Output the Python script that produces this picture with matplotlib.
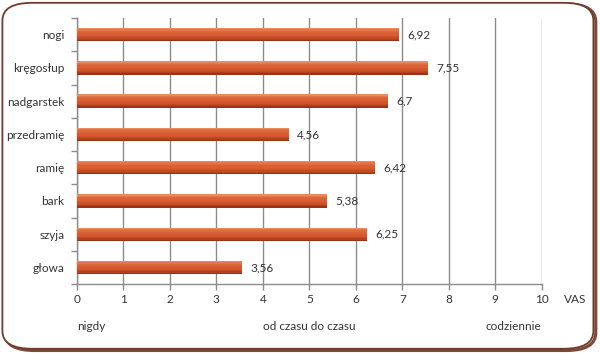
import matplotlib.pyplot as plt
import numpy as np
from matplotlib.patches import FancyBboxPatch

# data (top to bottom)
categories = ['nogi', 'kręgosłup', 'nadgarstek', 'przedramię', 'ramię', 'bark', 'szyja', 'głowa']
values = [6.92, 7.55, 6.7, 4.56, 6.42, 5.38, 6.25, 3.56]
value_labels = ['6,92', '7,55', '6,7', '4,56', '6,42', '5,38', '6,25', '3,56']
scale_labels = ['nigdy', 'od czasu do czasu', 'codziennie']

plt.rcParams['font.family'] = ['Lato', 'DejaVu Sans']
txt = '#333333'
fs = 8.5

fig = plt.figure(figsize=(6, 3.53), dpi=100)
fig.patch.set_facecolor('white')

# rounded frame with a slight shadow at bottom/right
shadow = FancyBboxPatch((0.008, 0.007), 0.985, 0.982, boxstyle='round,pad=0,rounding_size=0.05',
                        transform=fig.transFigure, facecolor='#e8ddd8', edgecolor='#7e4a38',
                        lw=2.2, zorder=-2)
frame = FancyBboxPatch((0.004, 0.012), 0.985, 0.98, boxstyle='round,pad=0,rounding_size=0.05',
                       transform=fig.transFigure, facecolor='white', edgecolor='#6e3b2c',
                       lw=1.3, zorder=-1)
fig.patches.extend([shadow, frame])

ax = fig.add_axes([0.128, 0.195, 0.775, 0.754])
ax.patch.set_alpha(0)

y = np.arange(len(categories))
h = 0.4
# bar body with soft gradient: stack thin bands from top (light) to bottom (dark)
band_cols = ['#eb8a5e', '#e2764a', '#dd6a3c', '#da6336', '#d85f33', '#d55a30',
             '#cf532b', '#c44a25', '#b3401f', '#9a3418']
nb = len(band_cols)
for i, c in enumerate(band_cols):
    off = -h / 2 + (i + 0.5) * h / nb
    ax.barh(y + off, values, height=h / nb * 1.05, color=c, zorder=3, lw=0)

for yi, v, lab in zip(y, values, value_labels):
    ax.text(v + 0.18, yi, lab, va='center', ha='left', fontsize=fs, color=txt)

ax.set_xlim(0, 10)
ax.set_ylim(len(categories) - 0.5, -0.5)
ax.set_xticks(range(11))
ax.set_yticks(y)
ax.set_yticklabels(categories, fontsize=fs, color=txt)
ax.set_yticks(np.arange(-0.5, len(categories)), minor=True)
ax.tick_params(axis='y', which='major', length=0, pad=9)
ax.tick_params(axis='y', which='minor', length=4, color='#8c8c8c', width=1)
ax.tick_params(axis='x', length=4, color='#8c8c8c', width=1, labelsize=fs, labelcolor=txt, pad=3)
ax.grid(axis='x', color='#8c8c8c', lw=1, zorder=1)

for s in ['top', 'right']:
    ax.spines[s].set_visible(False)
for s in ['left', 'bottom']:
    ax.spines[s].set_color('#8c8c8c')
    ax.spines[s].set_linewidth(1)

ax.annotate('VAS', xy=(10.72, 0), xycoords=('data', 'axes fraction'), xytext=(0, -7),
            textcoords='offset points', ha='center', va='top', fontsize=fs, color=txt,
            annotation_clip=False)
ax.text(0, -0.14, scale_labels[0], transform=ax.get_xaxis_transform(), ha='left', va='top',
        fontsize=fs, color=txt)
ax.text(5, -0.14, scale_labels[1], transform=ax.get_xaxis_transform(), ha='center', va='top',
        fontsize=fs, color=txt)
ax.text(9.38, -0.14, scale_labels[2], transform=ax.get_xaxis_transform(), ha='center', va='top',
        fontsize=fs, color=txt)

fig.savefig('out.png', dpi=100)
